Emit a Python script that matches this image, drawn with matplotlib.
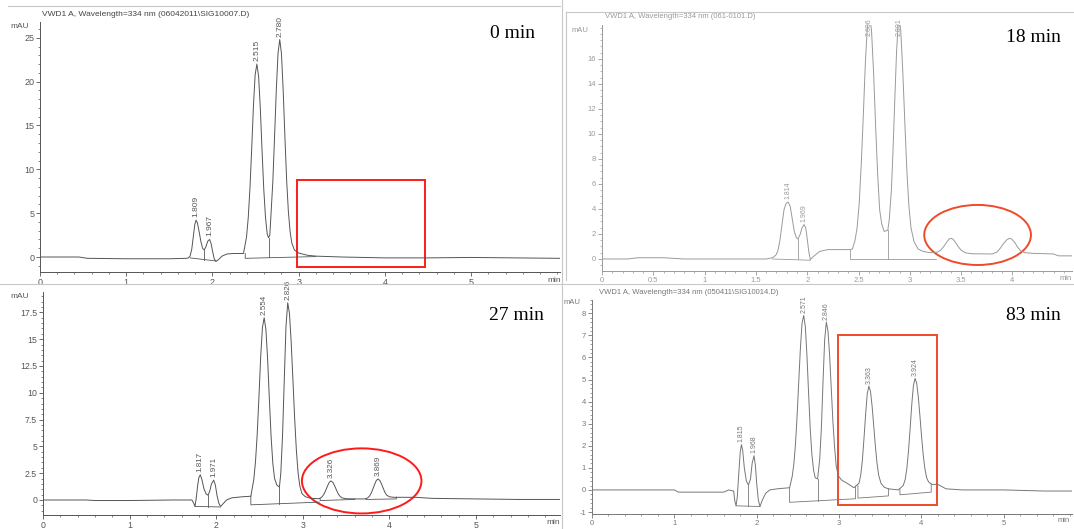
import matplotlib
matplotlib.use("Agg")
import matplotlib.pyplot as plt
from matplotlib.patches import Rectangle, Ellipse
from matplotlib.ticker import MultipleLocator

# ---- data (time in min, signal in mAU) ----
t_0 = [0, 0.45, 0.55, 1.0, 1.5, 1.70, 1.72,
       1.74, 1.76, 1.78, 1.795, 1.809, 1.825, 1.845, 1.865, 1.885, 1.905,
       1.925, 1.945, 1.967, 1.985, 2.00, 2.02, 2.04, 2.07, 2.11, 2.17,
       2.25, 2.36, 2.375, 2.395, 2.415, 2.435, 2.455, 2.475, 2.495, 2.515,
       2.535, 2.555, 2.575, 2.595, 2.615, 2.635, 2.65, 2.665, 2.68, 2.70,
       2.72, 2.74, 2.76, 2.78, 2.80, 2.82, 2.84, 2.86, 2.88, 2.90,
       2.92, 2.95, 3.0, 3.1, 3.2, 3.5, 4.0, 4.5, 5.0, 5.5, 6.03]
y_0 = [0, 0.0, -0.15, -0.2, -0.2, -0.15, -0.1,
       0.1, 0.9, 2.5, 3.7, 4.2, 3.9, 2.9, 1.8, 1.0, 0.8,
       1.2, 1.8, 2.0, 1.5, 0.7, -0.2, -0.5, -0.3, 0.1, 0.35,
       0.4, 0.4, 1.2, 2.3, 4.5, 7.9, 12.4, 17.2, 20.8, 22.0,
       20.6, 16.9, 12.1, 7.7, 4.5, 2.6, 2.2, 2.5, 5.1, 8.6,
       13.7, 19.0, 23.2, 24.8, 23.2, 19.0, 13.7, 8.8, 5.2, 2.9,
       1.6, 0.8, 0.45, 0.2, 0.1, 0.0, -0.1, -0.1, -0.05, -0.1, -0.15]

t_18 = [0, 0.25, 0.35, 0.6, 0.8, 1.2, 1.6, 1.66, 1.694, 1.714,
        1.734, 1.754, 1.774, 1.794, 1.814, 1.834, 1.854, 1.874, 1.894, 1.91,
        1.93, 1.95, 1.969, 1.985, 2.0, 2.015, 2.03, 2.06, 2.12, 2.2,
        2.42, 2.44, 2.466, 2.486, 2.506, 2.526, 2.546, 2.566, 2.586, 2.606,
        2.626, 2.646, 2.666, 2.686, 2.706, 2.726, 2.75, 2.785, 2.80, 2.82,
        2.835, 2.85, 2.87, 2.891, 2.911, 2.931, 2.951, 2.971, 2.991, 3.011,
        3.04, 3.08, 3.13, 3.2, 3.27, 3.30, 3.33, 3.36, 3.38, 3.40,
        3.42, 3.44, 3.47, 3.50, 3.54, 3.6, 3.8, 3.85, 3.88, 3.91,
        3.94, 3.97, 3.99, 4.02, 4.05, 4.08, 4.12, 4.2, 4.4, 4.45, 4.58]
y_18 = [0, 0.0, 0.1, 0.1, 0.0, 0.0, 0.0, 0.1, 0.3, 0.65,
        1.5, 2.75, 3.95, 4.45, 4.55, 4.2, 3.2, 2.2, 1.7, 1.6,
        1.95, 2.5, 2.75, 2.5, 1.6, 0.6, -0.05, 0.2, 0.6, 0.75,
        0.75, 0.8, 1.5, 2.5, 4.4, 7.5, 11.4, 15.6, 18.6, 19.5,
        18.3, 15.0, 10.7, 6.8, 3.9, 2.8, 2.2, 2.3, 3.2, 5.5,
        8.5, 12.0, 16.5, 19.5, 18.3, 15.0, 10.9, 7.0, 4.2, 2.5,
        1.4, 0.8, 0.6, 0.5, 0.55, 0.7, 1.0, 1.35, 1.58, 1.65,
        1.58, 1.38, 1.0, 0.7, 0.5, 0.42, 0.4, 0.55, 0.85, 1.2,
        1.5, 1.65, 1.6, 1.35, 0.95, 0.65, 0.5, 0.45, 0.4, 0.25, 0.25]

t_27 = [0, 0.5, 0.6, 1.0, 1.5, 1.72, 1.74, 1.755, 1.77, 1.785,
        1.80, 1.817, 1.835, 1.86, 1.885, 1.905, 1.925, 1.945, 1.971, 1.99,
        2.01, 2.03, 2.05, 2.08, 2.12, 2.18, 2.3, 2.40, 2.414, 2.434,
        2.454, 2.474, 2.494, 2.514, 2.534, 2.554, 2.574, 2.594, 2.614, 2.634,
        2.654, 2.674, 2.70, 2.73, 2.746, 2.766, 2.786, 2.806, 2.826, 2.846,
        2.866, 2.886, 2.906, 2.926, 2.946, 2.966, 2.99, 3.03, 3.1, 3.186,
        3.206, 3.226, 3.246, 3.266, 3.286, 3.306, 3.326, 3.346, 3.366, 3.386,
        3.406, 3.426, 3.45, 3.5, 3.6, 3.72, 3.749, 3.769, 3.789, 3.809,
        3.829, 3.849, 3.869, 3.889, 3.909, 3.929, 3.949, 3.969, 4.0, 4.05,
        4.3, 4.5, 5.0, 5.5, 5.97]
y_27 = [0, 0.0, -0.05, -0.05, 0.0, 0.0, -0.3, -0.6, 0.2, 1.3,
        2.1, 2.35, 1.9, 1.0, 0.55, 0.45, 0.8, 1.5, 1.85, 1.4,
        0.4, -0.3, -0.6, -0.35, 0.0, 0.2, 0.3, 0.35, 1.0, 1.9,
        3.6, 6.2, 9.7, 13.4, 16.1, 17.0, 15.9, 13.1, 9.4, 5.9,
        3.4, 2.0, 1.4, 1.2, 2.5, 6.0, 11.2, 16.2, 18.4, 17.4,
        14.7, 11.2, 7.6, 4.6, 2.5, 1.3, 0.6, 0.3, 0.15, 0.12,
        0.19, 0.33, 0.57, 0.92, 1.32, 1.65, 1.78, 1.65, 1.35, 0.98,
        0.62, 0.38, 0.2, 0.12, 0.1, 0.1, 0.2, 0.35, 0.62, 1.01,
        1.45, 1.82, 1.96, 1.82, 1.5, 1.08, 0.7, 0.45, 0.3, 0.25,
        0.25, 0.15, 0.1, 0.05, 0.05]

t_83 = [0, 1.0, 1.05, 1.6, 1.66, 1.72, 1.735, 1.75, 1.765, 1.78,
        1.80, 1.815, 1.83, 1.85, 1.875, 1.90, 1.925, 1.945, 1.968, 1.985,
        2.00, 2.02, 2.04, 2.07, 2.11, 2.16, 2.25, 2.40, 2.431, 2.451,
        2.471, 2.491, 2.511, 2.531, 2.551, 2.571, 2.591, 2.611, 2.631, 2.651,
        2.671, 2.691, 2.711, 2.74, 2.766, 2.786, 2.806, 2.826, 2.846, 2.866,
        2.886, 2.906, 2.926, 2.946, 2.966, 2.99, 3.03, 3.1, 3.18, 3.243,
        3.263, 3.283, 3.303, 3.323, 3.343, 3.363, 3.383, 3.403, 3.423, 3.443,
        3.463, 3.483, 3.51, 3.55, 3.6, 3.72, 3.78, 3.804, 3.824, 3.844,
        3.864, 3.884, 3.904, 3.924, 3.944, 3.964, 3.984, 4.004, 4.024, 4.044,
        4.064, 4.09, 4.13, 4.2, 4.3, 4.5, 5.0, 5.5, 5.83]
y_83 = [0, 0.0, -0.1, -0.1, 0.0, -0.05, -0.5, -0.72, -0.3, 0.6,
        1.7, 2.05, 1.8, 1.0, 0.4, 0.22, 0.5, 1.2, 1.55, 1.1,
        0.3, -0.45, -0.75, -0.45, -0.15, 0.0, 0.05, 0.1, 0.6, 1.15,
        2.05, 3.35, 4.9, 6.4, 7.55, 7.9, 7.4, 6.07, 4.35, 2.74,
        1.6, 0.9, 0.55, 0.5, 1.4, 2.8, 4.9, 6.8, 7.6, 7.2,
        6.1, 4.6, 3.1, 1.95, 1.1, 0.65, 0.45, 0.3, 0.1, 0.3,
        0.65, 1.3, 2.3, 3.4, 4.35, 4.7, 4.45, 3.76, 2.85, 1.93,
        1.17, 0.65, 0.3, 0.12, 0.05, 0.0, 0.2, 0.47, 0.97, 1.75,
        2.78, 3.88, 4.73, 5.05, 4.82, 4.18, 3.3, 2.37, 1.55, 0.95,
        0.55, 0.35, 0.25, 0.25, 0.05, 0.0, 0.0, -0.05, -0.05]

# integrated peaks: retention time, labelled apex height
rt_0 = [1.809, 1.967, 2.515, 2.780]
h_0 = [4.2, 2.0, 22.0, 24.8]
rt_18 = [1.814, 1.969, 2.606, 2.891]
h_18 = [4.55, 2.75, 17.6, 17.6]
rt_27 = [1.817, 1.971, 2.554, 2.826, 3.326, 3.869]
h_27 = [2.35, 1.85, 17.0, 18.4, 1.78, 1.96]
rt_83 = [1.815, 1.968, 2.571, 2.846, 3.363, 3.924]
h_83 = [2.05, 1.55, 7.9, 7.6, 4.7, 5.05]

# integration baselines (time list, mAU list) per segment
base_0 = [([1.74, 1.74, 2.04], [-0.1, -0.1, -0.45]),
          ([2.38, 2.38, 3.2], [0.4, -0.15, 0.05]),
          ([1.905, 1.905], [0.8, -0.3]),
          ([2.65, 2.65], [2.2, -0.05])]
base_18 = [([1.66, 2.03], [0.0, -0.1]),
           ([2.42, 2.42, 3.25], [0.75, 0.0, 0.0]),
           ([1.91, 1.91], [1.6, 0.0]),
           ([2.785, 2.785], [2.3, 0.0])]
base_27 = [([1.755, 2.05], [-0.6, -0.65]),
           ([2.40, 2.40, 3.19], [0.35, -0.45, -0.2]),
           ([1.905, 1.905], [0.45, -0.62]),
           ([2.73, 2.73], [1.2, -0.35]),
           ([3.2, 3.2, 3.6, 3.6], [0.17, -0.05, 0.05, 0.1]),
           ([3.73, 3.73, 4.08, 4.08], [0.12, 0.05, 0.1, 0.27])]
base_83 = [([1.75, 2.04], [-0.72, -0.75]),
           ([2.40, 2.40, 3.2, 3.2], [0.1, -0.56, -0.4, 0.15]),
           ([1.90, 1.90], [0.22, -0.73]),
           ([2.74, 2.74], [0.5, -0.5]),
           ([3.23, 3.23, 3.6, 3.6], [0.2, -0.37, -0.27, 0.05]),
           ([3.74, 3.74, 4.12, 4.12], [0.05, -0.22, -0.1, 0.27])]

titles = ["VWD1 A, Wavelength=334 nm (06042011\\SIG10007.D)",
          "VWD1 A, Wavelength=334 nm (061-0101.D)",
          "VWD1 A, Wavelength=334 nm (050411\\SIG10014.D)"]
times = ["0 min", "18 min", "27 min", "83 min"]

W, H = 1074, 529
fig = plt.figure(figsize=(W / 100, H / 100), dpi=100)
fig.patch.set_facecolor("white")
plt.rcParams["font.family"] = ["Liberation Sans", "DejaVu Sans"]


def px_axes(l, t, r, b):
    return fig.add_axes([l / W, 1 - b / H, (r - l) / W, (b - t) / H])


def chrom(ax, t, y, rts, hs, bases, xlim, ylim, yticks, yticklabels, xticks, xticklabels,
          xminor, yminor, col, fs):
    ax.plot(t, y, color=col, lw=0.7)
    for bt, by in bases:
        ax.plot(bt, by, color=col, lw=0.6)
    span = ylim[1] - ylim[0]
    for rt, h in zip(rts, hs):
        ax.text(rt, h + 0.012 * span, f"{rt:.3f}", rotation=90, ha="center", va="bottom",
                fontsize=fs - 0.5, color=col, clip_on=False)
    ax.set_xlim(*xlim)
    ax.set_ylim(*ylim)
    ax.set_xticks(xticks)
    ax.set_xticklabels(xticklabels)
    ax.set_yticks(yticks)
    ax.set_yticklabels(yticklabels)
    ax.xaxis.set_minor_locator(MultipleLocator(xminor))
    ax.yaxis.set_minor_locator(MultipleLocator(yminor))
    ax.tick_params(which="major", direction="out", length=3, width=0.6, colors=col,
                   labelsize=fs, pad=1.2)
    ax.tick_params(which="minor", direction="out", length=1.5, width=0.5, colors=col)
    for s in ["top", "right"]:
        ax.spines[s].set_visible(False)
    for s in ["left", "bottom"]:
        ax.spines[s].set_color(col)
        ax.spines[s].set_linewidth(0.7)
    ax.patch.set_alpha(0)


# top left: 0 min
ax1 = px_axes(40, 22, 560, 272)
chrom(ax1, t_0, y_0, rt_0, h_0, base_0, (0, 6.03), (-1.71, 26.8),
      [0, 5, 10, 15, 20, 25], ["0", "5", "10", "15", "20", "25"],
      [0, 1, 2, 3, 4, 5], ["0", "1", "2", "3", "4", "5"], 0.2, 1, "#555555", 6.5)
ax1.add_patch(Rectangle((2.98, -1.14), 1.48, 9.94, fill=False, ec="#ff1a1a", lw=1.4,
                        clip_on=False))

# top right: 18 min
ax2 = px_axes(602, 25, 1072, 271)
chrom(ax2, t_18, y_18, rt_18, h_18, base_18, (0, 4.58), (-0.96, 18.7),
      [0, 2, 4, 6, 8, 10, 12, 14, 16], ["0", "2", "4", "6", "8", "10", "12", "14", "16"],
      [0, 0.5, 1, 1.5, 2, 2.5, 3, 3.5, 4], ["0", "0.5", "1", "1.5", "2", "2.5", "3", "3.5", "4"],
      0.1, 0.5, "#9a9a9a", 5.5)
ax2.add_patch(Ellipse((3.66, 1.92), 1.04, 4.8, fill=False, ec="#f04a2a", lw=1.4,
                      clip_on=False))

# bottom left: 27 min
ax3 = px_axes(43, 292, 560, 515)
chrom(ax3, t_27, y_27, rt_27, h_27, base_27, (0, 5.97), (-1.4, 19.4),
      [0, 2.5, 5, 7.5, 10, 12.5, 15, 17.5],
      ["0", "2.5", "5", "7.5", "10", "12.5", "15", "17.5"],
      [0, 1, 2, 3, 4, 5], ["0", "1", "2", "3", "4", "5"], 0.2, 0.5, "#555555", 6.3)
ax3.add_patch(Ellipse((3.68, 1.78), 1.38, 6.07, fill=False, ec="#ff1a1a", lw=1.4,
                      clip_on=False))

# bottom right: 83 min
ax4 = px_axes(592, 300, 1072, 514)
chrom(ax4, t_83, y_83, rt_83, h_83, base_83, (0, 5.83), (-1.09, 8.6),
      [-1, 0, 1, 2, 3, 4, 5, 6, 7, 8], ["-1", "0", "1", "2", "3", "4", "5", "6", "7", "8"],
      [0, 1, 2, 3, 4, 5], ["0", "1", "2", "3", "4", "5"], 0.2, 0.2, "#777777", 5.5)
ax4.add_patch(Rectangle((2.99, -0.68), 1.2, 7.68, fill=False, ec="#f04a2a", lw=1.4,
                        clip_on=False))


def ftext(x, y, s, **kw):
    fig.text(x / W, 1 - y / H, s, **kw)


# chromatogram headers, units
ftext(42, 14, titles[0], fontsize=6, color="#444444", va="center")
ftext(605, 16, titles[1], fontsize=5.5, color="#999999", va="center")
ftext(599, 293, titles[2], fontsize=5.5, color="#777777", va="center")
ftext(10, 27, "mAU", fontsize=6, color="#555555", va="center")
ftext(572, 31, "mAU", fontsize=5.5, color="#999999", va="center")
ftext(10, 296, "mAU", fontsize=6, color="#555555", va="center")
ftext(564, 303, "mAU", fontsize=5.5, color="#777777", va="center")
ftext(547, 281, "min", fontsize=6, color="#555555", va="center")
ftext(1060, 278, "min", fontsize=5.5, color="#999999", va="center")
ftext(546, 522, "min", fontsize=6, color="#555555", va="center")
ftext(1058, 520, "min", fontsize=5.5, color="#777777", va="center")

# sampling time labels
ftext(535, 33, times[0], fontsize=14, family="Liberation Serif", ha="right", va="center")
ftext(1061, 37, times[1], fontsize=14, family="Liberation Serif", ha="right", va="center")
ftext(544, 315, times[2], fontsize=14, family="Liberation Serif", ha="right", va="center")
ftext(1061, 315, times[3], fontsize=14, family="Liberation Serif", ha="right", va="center")

# screenshot borders
for (x0, y0, x1, y1) in [(8, 6, 560, 6), (562, 0, 562, 529), (0, 284, 1074, 284),
                         (566, 12, 1074, 12), (566, 12, 566, 280)]:
    fig.add_artist(plt.Line2D([x0 / W, x1 / W], [1 - y0 / H, 1 - y1 / H],
                              color="#c8c8c8", lw=0.8))

plt.savefig("out.png", dpi=100)
